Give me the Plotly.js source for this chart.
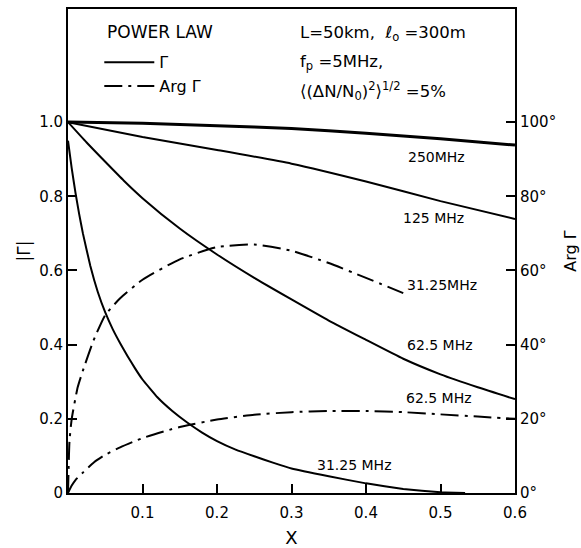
<!DOCTYPE html>
<html>
<head>
<meta charset="utf-8">
<script src="https://cdn.plot.ly/plotly-3.0.1.min.js"></script>
<style>html,body{margin:0;padding:0;background:#fff;}</style>
</head>
<body>
<div id="chart" style="width:581px;height:548px;"></div>
<script>
// |Γ| curves (magnitude)
const x250 = [0, 0.1, 0.2, 0.3, 0.4, 0.5, 0.6];
const g250 = [1.0, 0.997, 0.99, 0.983, 0.97, 0.955, 0.938];

const x125 = [0, 0.1, 0.2, 0.3, 0.4, 0.5, 0.6];
const g125 = [1.0, 0.96, 0.925, 0.888, 0.84, 0.787, 0.739];

const x625 = [0, 0.025, 0.05, 0.075, 0.1, 0.15, 0.2, 0.25, 0.3, 0.35, 0.4, 0.45, 0.5, 0.55, 0.6];
const g625 = [1.0, 0.945, 0.893, 0.842, 0.795, 0.713, 0.643, 0.58, 0.522, 0.465, 0.413, 0.362, 0.32, 0.285, 0.253];

const x3125 = [0, 0.005, 0.01, 0.015, 0.02, 0.03, 0.04, 0.05, 0.06, 0.07, 0.08, 0.09, 0.1, 0.12, 0.14, 0.16, 0.18, 0.2, 0.225, 0.25, 0.275, 0.3, 0.35, 0.4, 0.45, 0.5, 0.533];
const g3125 = [0.95, 0.875, 0.81, 0.752, 0.7, 0.612, 0.542, 0.487, 0.442, 0.404, 0.369, 0.336, 0.306, 0.258, 0.221, 0.19, 0.163, 0.14, 0.117, 0.099, 0.082, 0.066, 0.045, 0.026, 0.011, 0.002, 0];

// Arg Γ curves (degrees)
const xa3125 = [0, 0.002, 0.005, 0.013, 0.02, 0.034, 0.05, 0.07, 0.1, 0.15, 0.2, 0.25, 0.3, 0.35, 0.4, 0.45];
const a3125 = [0, 14, 20, 28.5, 33, 41, 48, 52.5, 57.5, 63, 66.3, 67, 65.3, 62, 58, 53.9];

const xa625 = [0, 0.005, 0.01, 0.02, 0.035, 0.05, 0.07, 0.1, 0.15, 0.2, 0.25, 0.3, 0.35, 0.4, 0.45, 0.5, 0.55, 0.6];
const a625 = [0, 2, 3.5, 5.5, 8.3, 10.3, 12.3, 14.8, 17.8, 19.8, 21.1, 21.8, 22.1, 22.1, 21.8, 21.2, 20.6, 20];

// Tick labels
const xTicks = [0.1, 0.2, 0.3, 0.4, 0.5, 0.6];
const xTickText = ["0.1", "0.2", "0.3", "0.4", "0.5", "0.6"];
const yTicks = [0, 0.2, 0.4, 0.6, 0.8, 1.0];
const yTickText = ["0", "0.2", "0.4", "0.6", "0.8", "1.0"];
const y2Ticks = [0, 20, 40, 60, 80, 100];
const y2TickText = ["0°", "20°", "40°", "60°", "80°", "100°"];

// Curve labels
const labelText = ["250MHz", "125 MHz", "31.25MHz", "62.5 MHz", "62.5 MHz", "31.25 MHz"];
const labelX = [0.494, 0.49, 0.502, 0.499, 0.498, 0.384];
const labelY = [0.906, 0.741, 0.561, 0.399, 0.256, 0.075];

const FONT = "DejaVu Sans, Arial, sans-serif";
const sm = 0.5;
const DD = "18px,6px,3px,6px";
const traces = [
  {x: x250, y: g250, mode: "lines", line: {color: "#000", width: 3, shape: "spline", smoothing: sm}, showlegend: false},
  {x: x125, y: g125, mode: "lines", line: {color: "#000", width: 2, shape: "spline", smoothing: sm}, name: "Γ", showlegend: true, legendgroup: "a", legendrank: 1},
  {x: x625, y: g625, mode: "lines", line: {color: "#000", width: 2, shape: "spline", smoothing: sm}, showlegend: false},
  {x: x3125, y: g3125, mode: "lines", line: {color: "#000", width: 2, shape: "spline", smoothing: 0.3}, showlegend: false},
  {x: xa3125, y: a3125, yaxis: "y2", mode: "lines", line: {color: "#000", width: 2, dash: DD, shape: "spline", smoothing: sm}, name: "Arg Γ", showlegend: true, legendgroup: "b", legendrank: 2},
  {x: xa625, y: a625, yaxis: "y2", mode: "lines", line: {color: "#000", width: 2, dash: DD, shape: "spline", smoothing: sm}, showlegend: false}
];
traces.forEach(t => { t.hoverinfo = "skip"; });

const annotations = labelText.map((t, i) => ({
  text: t, x: labelX[i], y: labelY[i], xref: "x", yref: "y",
  showarrow: false, font: {family: FONT, size: 14, color: "#000"}
}));
const tf = {family: FONT, size: 16.5, color: "#000"};
annotations.push(
  {text: "POWER LAW", x: (105 - 68) / 447, y: 0.9525, xref: "paper", yref: "paper", xanchor: "left", yanchor: "middle", showarrow: false, font: {family: FONT, size: 17, color: "#000"}},
  {text: "L=50km,  <i>ℓ</i><sub>o</sub> =300m", x: 0.515, y: 0.95, xref: "paper", yref: "paper", xanchor: "left", yanchor: "middle", showarrow: false, font: tf},
  {text: "f<sub>p</sub> =5MHz,", x: 0.515, y: 0.89, xref: "paper", yref: "paper", xanchor: "left", yanchor: "middle", showarrow: false, font: tf},
  {text: "⟨(ΔN/N<sub>0</sub>)<sup>2</sup>⟩<sup>1/2</sup> =5%", x: 0.515, y: 0.83, xref: "paper", yref: "paper", xanchor: "left", yanchor: "middle", showarrow: false, font: tf}
);

const axisCommon = {
  showgrid: false, zeroline: false, showline: true, linecolor: "#000", linewidth: 2,
  ticks: "inside", ticklen: 9, tickwidth: 2, tickcolor: "#000",
  tickfont: {family: FONT, size: 15, color: "#000"}
};

const layout = {
  width: 581, height: 548,
  margin: {l: 68, r: 66, t: 9, b: 55},
  paper_bgcolor: "#fff", plot_bgcolor: "#fff",
  font: {family: FONT, color: "#000"},
  showlegend: true,
  legend: {
    x: 0.07, y: 0.925, xanchor: "left", yanchor: "top",
    bgcolor: "rgba(0,0,0,0)", itemwidth: 50, tracegroupgap: 0,
    font: {family: FONT, size: 16, color: "#000"}
  },
  xaxis: Object.assign({}, axisCommon, {
    range: [0, 0.6], tickvals: xTicks, ticktext: xTickText, mirror: true, ticklabelstandoff: 5,
    title: {text: "X", font: {family: FONT, size: 18, color: "#000"}, standoff: 10}
  }),
  yaxis: Object.assign({}, axisCommon, {
    range: [0, 1.305], tickvals: yTicks, ticktext: yTickText,
    title: {text: "|Γ|", font: {family: FONT, size: 17, color: "#000"}, standoff: 4}
  }),
  yaxis2: Object.assign({}, axisCommon, {
    range: [0, 130.5], tickvals: y2Ticks, ticktext: y2TickText,
    overlaying: "y", side: "right",
    title: {text: "Arg Γ", font: {family: FONT, size: 16, color: "#000"}, standoff: 10}
  }),
  annotations: annotations
};

Plotly.newPlot("chart", traces, layout, {displayModeBar: false, staticPlot: true});
</script>
</body>
</html>
